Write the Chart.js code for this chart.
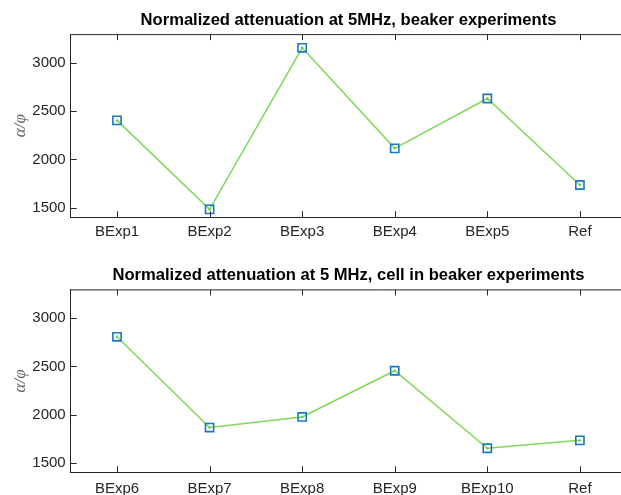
<!DOCTYPE html>
<html>
<head>
<meta charset="utf-8">
<script src="https://cdn.jsdelivr.net/npm/chart.js@4.4.1/dist/chart.umd.min.js"></script>
<style>
  html, body { margin: 0; padding: 0; background: #fff; overflow: hidden; width: 621px; height: 495px; }
  .wrap { position: absolute; left: 0; width: 697px; height: 245px; }
  #w1 { top: 0; }
  #w2 { top: 250px; }
</style>
</head>
<body>
<div class="wrap" id="w1"><canvas id="c1" width="697" height="245"></canvas></div>
<div class="wrap" id="w2"><canvas id="c2" width="697" height="245"></canvas></div>
<script>
// ---- data ----
const title1 = "Normalized attenuation at 5MHz, beaker experiments";
const title2 = "Normalized attenuation at 5 MHz, cell in beaker experiments";
const categories1 = ["BExp1", "BExp2", "BExp3", "BExp4", "BExp5", "Ref"];
const values1 = [2405, 1482, 3158, 2115, 2632, 1735];
const categories2 = ["BExp6", "BExp7", "BExp8", "BExp9", "BExp10", "Ref"];
const values2 = [2808, 1865, 1975, 2455, 1650, 1732];
const yTicks = [1500, 2000, 2500, 3000];
const yLabel = "α/φ";
const yMin = 1400, yMax = 3300;
// x axis runs from category 0.5 onward; the plot box continues past the right edge of the picture
const xMin = 0.5, xMax = 7.185;

const AXIS = '#262626';

const inwardTicks = {
  id: 'inwardTicks',
  afterDatasetsDraw(chart) {
    const ctx = chart.ctx, a = chart.chartArea;
    const xs = chart.scales.x, ys = chart.scales.y;
    ctx.save();
    ctx.strokeStyle = AXIS;
    ctx.lineWidth = 1;
    ctx.beginPath();
    ctx.moveTo(a.left, a.top + 0.5);
    ctx.lineTo(a.right, a.top + 0.5);
    xs.ticks.forEach((t, i) => {
      const px = Math.round(xs.getPixelForTick(i)) + 0.5;
      ctx.moveTo(px, a.bottom); ctx.lineTo(px, a.bottom - 6);
      ctx.moveTo(px, a.top); ctx.lineTo(px, a.top + 6);
    });
    ys.ticks.forEach((t, i) => {
      const py = Math.round(ys.getPixelForTick(i)) + 0.5;
      ctx.moveTo(a.left, py); ctx.lineTo(a.left + 6, py);
    });
    ctx.stroke();
    ctx.restore();
  }
};

function makeChart(id, title, cats, vals, titlePadTop, titlePadBottom, xAxisHeight, tickPad) {
  const pts = vals.map((v, i) => ({ x: i + 1, y: v }));
  return new Chart(document.getElementById(id), {
    type: 'line',
    data: {
      datasets: [
        {
          data: pts,
          showLine: false,
          pointStyle: 'rect',
          pointRadius: 5.8,
          pointBorderWidth: 1.6,
          pointBorderColor: '#1a78c2',
          pointBackgroundColor: 'rgba(0,0,0,0)',
          order: 0
        },
        {
          data: pts,
          borderColor: '#7fd957',
          borderWidth: 1.5,
          pointRadius: 1.2,
          pointBackgroundColor: '#6cc844',
          pointBorderWidth: 0,
          tension: 0,
          order: 1
        }
      ]
    },
    options: {
      responsive: false,
      animation: false,
      events: [],
      layout: { padding: { left: 0, right: 0, top: 0, bottom: 0 } },
      plugins: {
        legend: { display: false },
        tooltip: { enabled: false },
        title: {
          display: true,
          text: title,
          color: '#000',
          font: { family: 'Liberation Sans, Arial, sans-serif', size: 16.6, weight: 'bold', lineHeight: 1.2 },
          padding: { top: titlePadTop, bottom: titlePadBottom }
        }
      },
      scales: {
        x: {
          type: 'linear',
          min: xMin,
          max: xMax,
          grid: { display: false, drawTicks: false },
          border: { display: true, color: AXIS, width: 1 },
          afterBuildTicks(s) { s.ticks = cats.map((c, i) => ({ value: i + 1 })); },
          ticks: {
            color: AXIS,
            padding: tickPad,
            font: { family: 'Liberation Sans, Arial, sans-serif', size: 15 },
            maxRotation: 0,
            autoSkip: false,
            callback: v => cats[Math.round(v) - 1]
          },
          afterFit(s) { s.height = xAxisHeight; s.paddingLeft = 0; s.paddingRight = 0; }
        },
        y: {
          min: yMin,
          max: yMax,
          grid: { display: false, drawTicks: false },
          border: { display: true, color: AXIS, width: 1 },
          afterBuildTicks(s) { s.ticks = yTicks.map(v => ({ value: v })); },
          ticks: {
            color: AXIS,
            padding: 5,
            font: { family: 'Liberation Sans, Arial, sans-serif', size: 15 },
            callback: v => String(v)
          },
          title: {
            display: true,
            text: yLabel,
            color: '#666',
            font: { family: 'Liberation Serif, DejaVu Serif, serif', size: 17, style: 'italic', lineHeight: 1.2 },
            padding: { top: 10, bottom: 0 }
          },
          afterFit(s) { s.width = 70.7; s.paddingTop = 0; s.paddingBottom = 0; }
        }
      }
    },
    plugins: [inwardTicks]
  });
}

makeChart('c1', title1, categories1, values1, 10.6, 3.6, 27.7, 6);
makeChart('c2', title2, categories2, values2, 15.1, 4.4, 22.7, 8);
</script>
</body>
</html>
